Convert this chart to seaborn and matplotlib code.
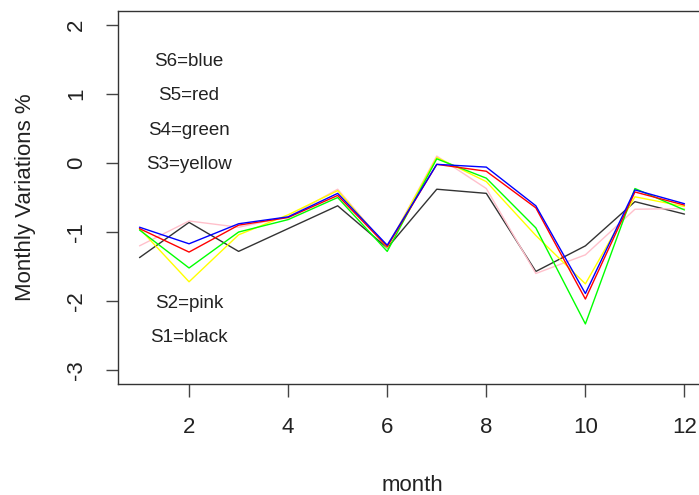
import matplotlib
matplotlib.use("Agg")
import matplotlib.pyplot as plt
import seaborn as sns
import pandas as pd

months = list(range(1, 13))
S1 = [-1.37, -0.86, -1.28, -0.95, -0.62, -1.23, -0.38, -0.44, -1.57, -1.20, -0.56, -0.74]
S2 = [-1.20, -0.84, -0.93, -0.78, -0.38, -1.22, 0.10, -0.37, -1.60, -1.33, -0.67, -0.66]
S3 = [-0.95, -1.72, -1.04, -0.75, -0.40, -1.22, 0.08, -0.27, -1.05, -1.75, -0.49, -0.63]
S4 = [-0.97, -1.52, -1.00, -0.82, -0.50, -1.28, 0.06, -0.22, -0.94, -2.33, -0.37, -0.68]
S5 = [-0.95, -1.29, -0.90, -0.79, -0.47, -1.21, -0.02, -0.12, -0.65, -1.97, -0.42, -0.61]
S6 = [-0.93, -1.17, -0.88, -0.78, -0.44, -1.19, -0.02, -0.06, -0.62, -1.89, -0.39, -0.59]
series_names = ["S1", "S2", "S3", "S4", "S5", "S6"]
series_colors = ["black", "pink", "yellow", "green", "red", "blue"]
legend_texts = ["S6=blue", "S5=red", "S4=green", "S3=yellow", "S2=pink", "S1=black"]
legend_y = [1.5, 1.0, 0.5, 0.0, -2.0, -2.5]
y_ticks = [-3, -2, -1, 0, 1, 2]
x_ticks = [2, 4, 6, 8, 10, 12]

rows = []
for name, vals in zip(series_names, [S1, S2, S3, S4, S5, S6]):
    for m, v in zip(months, vals):
        rows.append({"month": m, "value": v, "series": name})
df = pd.DataFrame(rows)

sns.set_style("ticks")
plt.rcParams["font.family"] = ["Liberation Sans", "DejaVu Sans"]

color_map = {"black": "#000000", "pink": "#FFC0CB", "yellow": "#FFFF00",
             "green": "#00FF00", "red": "#FF0000", "blue": "#0000FF"}
palette = {n: color_map[c] for n, c in zip(series_names, series_colors)}

fig = plt.figure(figsize=(6.99, 4.95), dpi=100)
ax = fig.add_axes([0.1684, 0.2242, 0.842, 0.7536])
sns.lineplot(data=df, x="month", y="value", hue="series", palette=palette,
             hue_order=series_names, linewidth=1.0, legend=False, ax=ax)
ax.lines[0].set_color("#333333")

for t, y in zip(legend_texts, legend_y):
    ax.text(2, y, t, ha="center", va="center_baseline", fontsize=13.5, color="#222222")

ax.set_xlim(0.56, 12.44)
ax.set_ylim(-3.2, 2.2)
ax.set_xticks(x_ticks)
ax.set_yticks(y_ticks)
ax.set_xticklabels([str(v) for v in x_ticks], fontsize=16, color="#222222")
ax.set_yticklabels([str(v) for v in y_ticks], fontsize=16, rotation=90,
                   va="center", color="#222222")
ax.tick_params(axis="both", length=9, width=1.0, color="#444444")
ax.tick_params(axis="x", pad=14.5)
ax.tick_params(axis="y", pad=13)
ax.set_xlabel("month", fontsize=16, color="#222222", labelpad=27)
ax.set_ylabel("Monthly Variations %", fontsize=16, color="#222222", labelpad=22)
for s in ax.spines.values():
    s.set_visible(True)
    s.set_color("#333333")
    s.set_linewidth(1.0)

fig.savefig("out.png", dpi=100)
